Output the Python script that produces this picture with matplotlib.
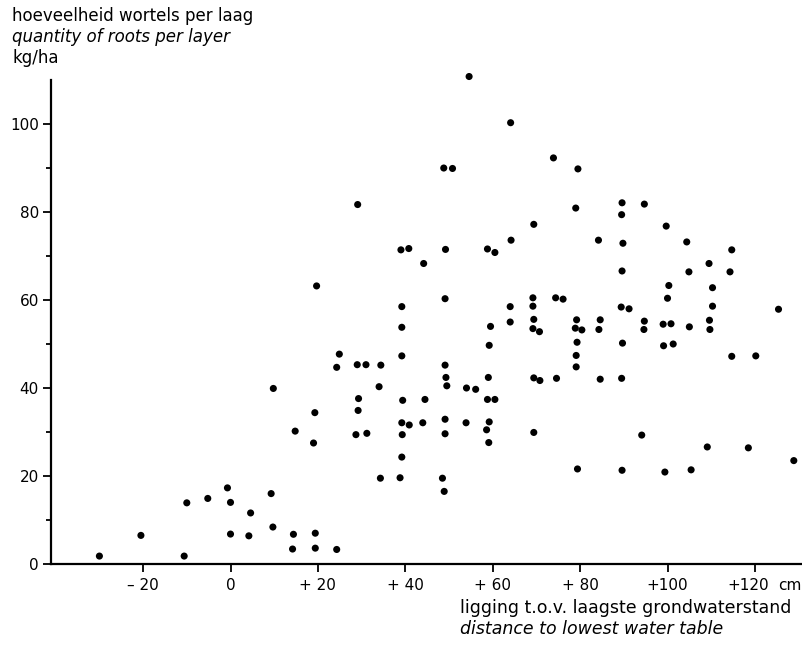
import matplotlib
matplotlib.use("Agg")
import matplotlib.pyplot as plt
import matplotlib.transforms as mtransforms
import numpy as np

# afstand t.o.v. laagste grondwaterstand (cm) en wortelmassa (kg/ha)
distance_cm = [
    -30, -20.5, -10.6, -10, -5.2, -0.7, 0, 0, 4.6, 4.2,
    9.3, 9.8, 9.7, 14.8, 14.4, 14.2, 19.3, 19, 19.4, 19.4,
    24.3, 19.7, 24.9, 24.3, 29, 31, 34.4, 34, 29.3, 29.2,
    28.7, 31.2, 29.1, 34.3, 38.8, 39.2, 39.3, 39.2, 40.9, 39.4,
    39.2, 39.2, 39.2, 39, 40.8, 44.2, 44.5, 44, 48.5, 48.9,
    49.1, 49.1, 49.5, 49.3, 49.1, 49.1, 49.2, 48.8, 50.8, 54.6,
    54, 56.1, 53.9, 58.8, 60.5, 59.5, 59.2, 59, 58.8, 60.5,
    59.2, 58.6, 59.1, 64.1, 64.2, 64, 64, 69.4, 69.2, 69.2,
    69.4, 69.2, 70.7, 69.4, 70.8, 69.4, 73.9, 74.4, 76.1, 74.6,
    79.5, 79, 79.2, 78.9, 80.4, 79.3, 79.1, 79.1, 79.4, 84.2,
    84.6, 84.3, 84.6, 89.6, 89.5, 89.8, 89.6, 89.4, 91.2, 89.7,
    89.5, 89.6, 94.7, 94.7, 94.6, 94.1, 99.7, 100.3, 100, 99,
    100.8, 99.1, 101.3, 99.4, 104.4, 104.9, 105, 105.4, 109.5, 110.3,
    110.3, 109.6, 109.7, 109.1, 114.7, 114.3, 114.7, 118.5, 120.2, 125.4,
    128.9,
]
roots_kg_ha = [
    1.8, 6.5, 1.8, 13.9, 14.9, 17.3, 14, 6.8, 11.6, 6.4,
    16, 39.9, 8.4, 30.2, 6.75, 3.4, 34.4, 27.5, 7, 3.6,
    3.3, 63.2, 47.7, 44.7, 45.3, 45.3, 45.2, 40.3, 37.6, 34.9,
    29.4, 29.7, 81.7, 19.5, 19.6, 24.3, 29.4, 32.1, 31.6, 37.2,
    47.3, 53.8, 58.5, 71.4, 71.7, 68.3, 37.4, 32.1, 19.5, 16.5,
    29.6, 32.9, 40.5, 42.4, 45.2, 60.3, 71.5, 90, 89.9, 110.8,
    40, 39.7, 32.1, 71.6, 70.8, 54, 49.7, 42.4, 37.4, 37.4,
    32.3, 30.5, 27.6, 100.3, 73.6, 58.5, 55, 77.2, 60.5, 58.6,
    55.6, 53.5, 52.8, 42.3, 41.7, 29.9, 92.3, 60.5, 60.2, 42.2,
    89.8, 80.9, 55.5, 53.6, 53.2, 50.4, 47.4, 44.8, 21.6, 73.6,
    55.5, 53.3, 42, 82.1, 79.4, 72.9, 66.6, 58.4, 58, 50.2,
    42.2, 21.3, 81.8, 55.2, 53.3, 29.3, 76.8, 63.3, 60.4, 54.5,
    54.6, 49.6, 50, 20.9, 73.2, 66.4, 53.9, 21.4, 68.3, 62.8,
    58.6, 55.4, 53.3, 26.6, 71.4, 66.4, 47.2, 26.4, 47.3, 57.9,
    23.5,
]

x_ticks = [-20, 0, 20, 40, 60, 80, 100, 120]
x_tick_labels = ["\u2013 20", "0", "+ 20", "+ 40", "+ 60", "+ 80", "+100", "+120"]
y_ticks = [0, 20, 40, 60, 80, 100]
y_minor = [10, 30, 50, 70, 90]

plt.rcParams['font.family'] = ['DejaVu Sans']

fig = plt.figure(figsize=(8.02, 6.47), dpi=100)
ax = fig.add_axes([0.064, 0.1283, 0.9345, 0.748])

ax.scatter(distance_cm, roots_kg_ha, s=26, color='black', edgecolors='none',
           clip_on=False, zorder=3)

ax.set_xlim(-41, 130.5)
ax.set_ylim(0, 110)

for side in ('top', 'right'):
    ax.spines[side].set_visible(False)
for side in ('left', 'bottom'):
    ax.spines[side].set_linewidth(1.6)

ax.set_xticks(x_ticks)
ax.set_xticklabels(x_tick_labels)
ax.set_yticks(y_ticks)
ax.set_yticks(y_minor, minor=True)
ax.tick_params(axis='both', which='major', direction='out', length=6, width=1.3,
               labelsize=11, colors='black')
ax.tick_params(axis='y', which='minor', direction='out', length=3.5, width=1.3)
ax.tick_params(axis='x', pad=4)
ax.tick_params(axis='y', pad=3)

# laatste label iets naar links, zodat "cm" erachter past
last = ax.get_xticklabels()[-1]
last.set_transform(last.get_transform() +
                   mtransforms.ScaledTranslation(-5 / 72, 0, fig.dpi_scale_trans))

# eenheid achter laatste tick
ax.text(125.3, -3.1, "cm", transform=ax.transData, ha='left', va='top',
        fontsize=11, clip_on=False)

# y-as titel (linksboven)
fig.text(0.015, 0.968, "hoeveelheid wortels per laag", fontsize=12, ha='left', va='baseline')
fig.text(0.015, 0.935, "quantity of roots per layer", fontsize=12, style='italic',
         ha='left', va='baseline')
fig.text(0.015, 0.902, "kg/ha", fontsize=12, ha='left', va='baseline')

# x-as titel (rechtsonder)
fig.text(0.573, 0.052, "ligging t.o.v. laagste grondwaterstand", fontsize=12.5,
         ha='left', va='baseline')
fig.text(0.573, 0.020, "distance to lowest water table", fontsize=12.5, style='italic',
         ha='left', va='baseline')

fig.savefig("out.png", dpi=100)
